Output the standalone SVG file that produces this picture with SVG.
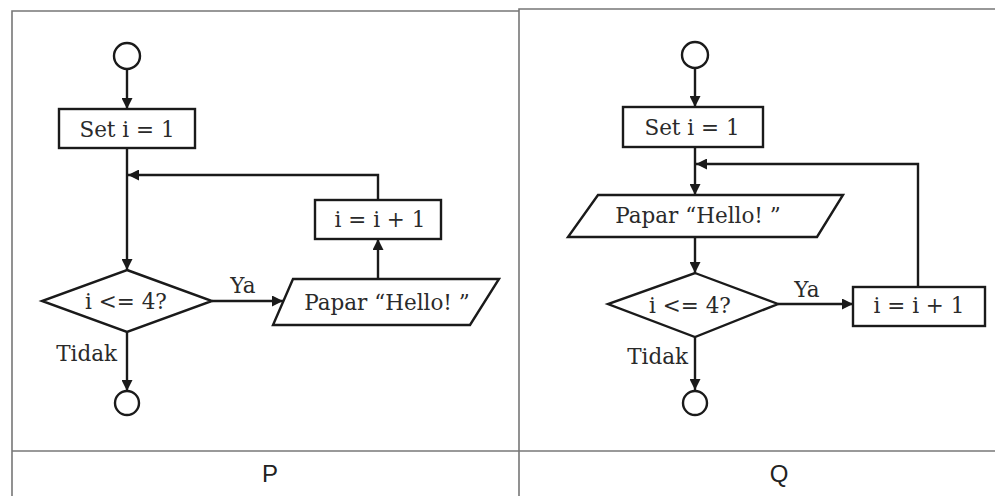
<svg xmlns="http://www.w3.org/2000/svg" width="995" height="496" viewBox="0 0 995 496">
<defs>
<marker id="ah" markerUnits="userSpaceOnUse" markerWidth="12" markerHeight="11" refX="10" refY="5" orient="auto" viewBox="0 0 10 10">
<path d="M0,0 L10,5 L0,10 z" fill="#1a1a1a"/>
</marker>
<style>
.sh{fill:#fff;stroke:#1a1a1a;stroke-width:2.4}
.cn{fill:none;stroke:#1a1a1a;stroke-width:2.4;marker-end:url(#ah)}
.t{font-family:"DejaVu Serif","Liberation Serif",serif;font-size:21.5px;fill:#2a2a2a;text-anchor:middle}
.te{font-family:"DejaVu Serif","Liberation Serif",serif;font-size:21.5px;fill:#2a2a2a;text-anchor:end}
.lb{font-family:"Liberation Sans",Arial,sans-serif;font-size:24px;fill:#222;text-anchor:middle}
.fr{fill:none;stroke:#777;stroke-width:1.6}
</style>
</defs>
<rect width="995" height="496" fill="#fff"/>
<g id="frame">
<path class="fr" d="M12,496 V11 H519"/>
<path class="fr" d="M519,496 V9 H995"/>
<path class="fr" d="M12,451 H995"/>
<text class="lb" x="270" y="482">P</text>
<text class="lb" x="779" y="482">Q</text>
</g>
<g id="connectors">
<path class="cn" d="M127,69 V109"/>
<path class="cn" d="M127,148 V270"/>
<path class="cn" d="M378,200 V175 H128"/>
<path class="cn" d="M212,301 H283"/>
<path class="cn" d="M378,279 V239"/>
<path class="cn" d="M127,332 V391"/>
<path class="cn" d="M695,68 V107"/>
<path class="cn" d="M695,147 V195"/>
<path class="cn" d="M918,287 V164 H696"/>
<path class="cn" d="M695,237 V273"/>
<path class="cn" d="M778,304 H853"/>
<path class="cn" d="M695,337 V390"/>
<text class="t" x="243" y="293">Ya</text>
<text class="te" x="117" y="361">Tidak</text>
<text class="t" x="807" y="297">Ya</text>
<text class="te" x="688" y="364">Tidak</text>
</g>
<g id="p-start"><circle class="sh" cx="127" cy="56" r="13"/></g>
<g id="p-set"><rect class="sh" x="59" y="109" width="136" height="39"/><text class="t" x="127" y="137">Set i = 1</text></g>
<g id="p-inc"><rect class="sh" x="315" y="200" width="126" height="39"/><text class="t" x="380" y="227">i = i + 1</text></g>
<g id="p-dec"><polygon class="sh" points="127,270 212,301 127,332 42,301"/><text class="t" x="126" y="309">i &lt;= 4?</text></g>
<g id="p-out"><polygon class="sh" points="293,279 499,279 470,325 273,325"/><text class="t" x="387" y="310">Papar “Hello! ”</text></g>
<g id="p-end"><circle class="sh" cx="127" cy="403" r="12"/></g>
<g id="q-start"><circle class="sh" cx="695" cy="55" r="13"/></g>
<g id="q-set"><rect class="sh" x="623" y="107" width="140" height="40"/><text class="t" x="692" y="135">Set i = 1</text></g>
<g id="q-out"><polygon class="sh" points="598,195 843,195 817,237 568,237"/><text class="t" x="698" y="223">Papar “Hello! ”</text></g>
<g id="q-dec"><polygon class="sh" points="695,273 778,304 695,337 608,304"/><text class="t" x="690" y="313">i &lt;= 4?</text></g>
<g id="q-inc"><rect class="sh" x="853" y="287" width="132" height="39"/><text class="t" x="919" y="313">i = i + 1</text></g>
<g id="q-end"><circle class="sh" cx="695" cy="403" r="12"/></g>
</svg>
